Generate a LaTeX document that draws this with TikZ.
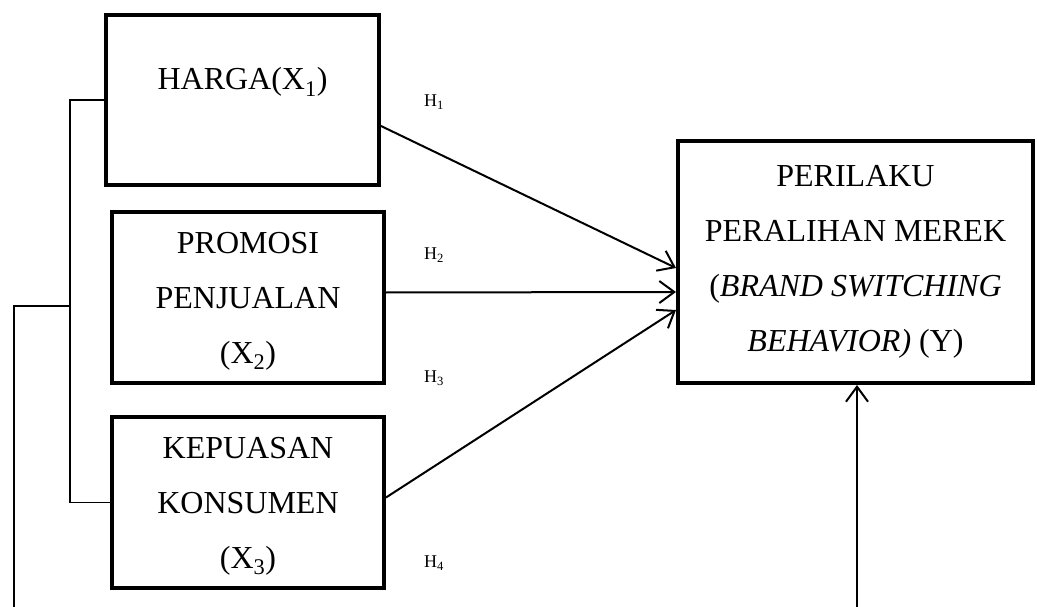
\documentclass[tikz,border=0pt]{standalone}
\usepackage{fontspec}
\setmainfont{Liberation Serif}
\usetikzlibrary{arrows.meta}
\tikzset{
  box/.style={draw, line width=4pt, align=center, inner sep=0pt,
    font=\fontsize{32}{55}\selectfont},
  conn/.style={line width=2pt},
  thin/.style={line width=1.4pt},
  arr/.style={conn, -{Straight Barb[length=15pt,width=22pt,line width=2pt]}},
  hlab/.style={font=\fontsize{18}{20}\selectfont, inner sep=0pt}
}
\newcommand{\lift}{\rule{0pt}{29pt}}
\begin{document}
\begin{tikzpicture}[x=1pt,y=-1pt]
\useasboundingbox (0,0) rectangle (1037,607);
\node[box, minimum width=273pt, minimum height=170pt] (x1) at (242.5,100) {\raisebox{10pt}[0pt][0pt]{HARGA(X\textsubscript{1})}};
\node[box, minimum width=272pt, minimum height=171pt] (x2) at (248,297.5) {\lift PROMOSI\\PENJUALAN\\(X\textsubscript{2})};
\node[box, minimum width=272pt, minimum height=171pt] (x3) at (248,502.5) {\lift KEPUASAN\\KONSUMEN\\(X\textsubscript{3})};
\node[box, minimum width=355pt, minimum height=242pt] (y) at (855.5,262) {PERILAKU\\PERALIHAN MEREK\\(\textit{BRAND SWITCHING}\\\textit{BEHAVIOR)} (Y)};
\node[hlab] (h1) at (434,102) {H\textsubscript{1}};
\node[hlab] (h2) at (434,255) {H\textsubscript{2}};
\node[hlab] (h3) at (434,378) {H\textsubscript{3}};
\node[hlab] (h4) at (434,563) {H\textsubscript{4}};
\draw[arr] ([yshift=-26pt]x1.east) -- ([yshift=-6pt]y.west);
\draw[arr] ([yshift=5pt]x2.east) -- ([yshift=-30pt]y.west);
\draw[arr] ([yshift=5pt]x3.east) -- ([yshift=-48pt]y.west);
\coordinate (jn) at (70,306);
\coordinate (b1) at (14,610);
\coordinate (b2) at (857,610);
\draw[thin] (x1.west) -- (70,100) |- (x3.west);
\draw[thin] (jn) -| (b1);
\draw[arr] (b2) -- (y.south -| b2);
\end{tikzpicture}
\end{document}
